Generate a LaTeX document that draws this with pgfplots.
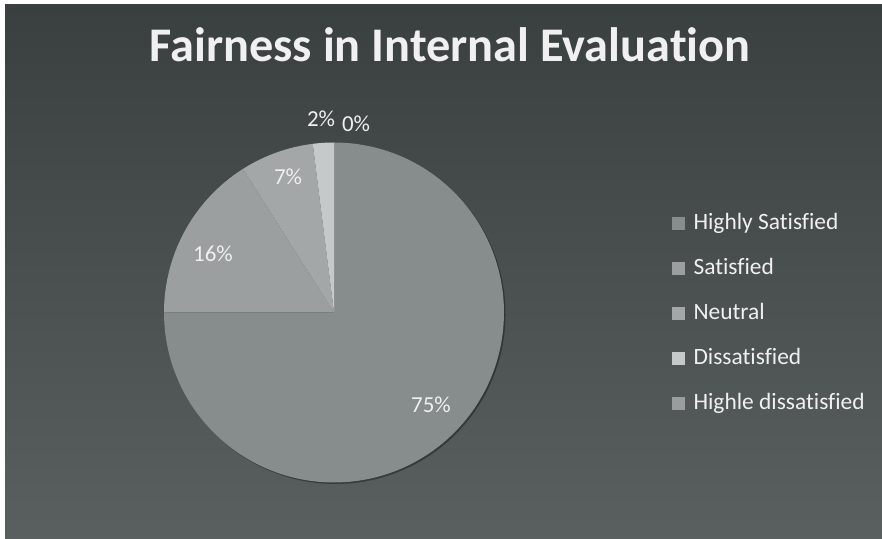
\documentclass[border=0pt]{standalone}
\usepackage{pgfplots}
\pgfplotsset{compat=1.18}
\usepackage{fontspec}
\setmainfont{Carlito}[Ligatures=NoCommon]
\definecolor{bgtop}{HTML}{3A3F40}
\definecolor{bgbot}{HTML}{5A5F60}
\definecolor{sA}{HTML}{878C8C}
\definecolor{sB}{HTML}{9B9F9F}
\definecolor{sC}{HTML}{A3A7A7}
\definecolor{sD}{HTML}{C6C9C9}
\definecolor{sE}{HTML}{9A9D9D}
\definecolor{txt}{HTML}{F0F0F0}

% slice values in percent
\def\vA{75}\def\vB{16}\def\vC{7}\def\vD{2}\def\vE{0}
% pie geometry (picture units = bp, y measured upward)
\def\cx{334}\def\cy{226.5}\def\R{170}
\pgfmathsetmacro\aA{90}
\pgfmathsetmacro\aB{\aA-3.6*\vA}
\pgfmathsetmacro\aC{\aB-3.6*\vB}
\pgfmathsetmacro\aD{\aC-3.6*\vC}
\pgfmathsetmacro\aE{\aD-3.6*\vD}

\begin{document}
\begin{tikzpicture}
\begin{axis}[
  width=882bp, height=539bp, scale only axis,
  xmin=0, xmax=882, ymin=0, ymax=539,
  hide axis, clip=false,
]
\coordinate (bbSW) at (0,0);
\coordinate (bbNE) at (882,539);
% background
\fill[white] (0,0) rectangle (882,539);
\shade[top color=bgtop, bottom color=bgbot] (5,-5) rectangle (890,534);
% title
\node[anchor=base, text=txt, font=\fontsize{48.5}{48.5}\selectfont\bfseries] at (450,539-62) {Fairness in Internal Evaluation};
% pie shadow
\addplot[fill=black, fill opacity=0.35, draw=none, domain=0:360, samples=181, variable=\t]
  ({\cx+1.5+\R*cos(\t)}, {\cy-1.5+\R*sin(\t)});
% slices
\addplot[fill=sA, draw=none, domain=\aB:\aA, samples=160, variable=\t]
  ({\cx+\R*cos(\t)}, {\cy+\R*sin(\t)}) -- (\cx,\cy) -- cycle;
\addplot[fill=sB, draw=none, domain=\aC:\aB, samples=60, variable=\t]
  ({\cx+\R*cos(\t)}, {\cy+\R*sin(\t)}) -- (\cx,\cy) -- cycle;
\addplot[fill=sC, draw=none, domain=\aD:\aC, samples=30, variable=\t]
  ({\cx+\R*cos(\t)}, {\cy+\R*sin(\t)}) -- (\cx,\cy) -- cycle;
\addplot[fill=sD, draw=none, domain=\aE:\aD, samples=10, variable=\t]
  ({\cx+\R*cos(\t)}, {\cy+\R*sin(\t)}) -- (\cx,\cy) -- cycle;
% data labels
\begin{scope}[every node/.style={anchor=base, text=txt, font=\fontsize{23}{23}\selectfont}]
\node at (431,539-413) {\vA\%};
\node at (213,539-262) {\vB\%};
\node at (288,539-185) {\vC\%};
\node at (321,539-127) {\vD\%};
\node at (356,539-132) {\vE\%};
\end{scope}
% legend
\begin{scope}[every node/.style={anchor=base west, text=txt, font=\fontsize{23.5}{23.5}\selectfont}]
\fill[sA] (672,539-230) rectangle (685,539-217);
\node at (690,539-230) {Highly Satisfied};
\fill[sB] (672,539-275) rectangle (685,539-262);
\node at (690,539-275) {Satisfied};
\fill[sC] (672,539-320) rectangle (685,539-307);
\node at (690,539-320) {Neutral};
\fill[sD] (672,539-365) rectangle (685,539-352);
\node at (690,539-365) {Dissatisfied};
\fill[sE] (672,539-410) rectangle (685,539-397);
\node at (690,539-410) {Highle dissatisfied};
\end{scope}
\end{axis}
\pgfresetboundingbox
\useasboundingbox (bbSW) rectangle (bbNE);
\end{tikzpicture}
\end{document}
